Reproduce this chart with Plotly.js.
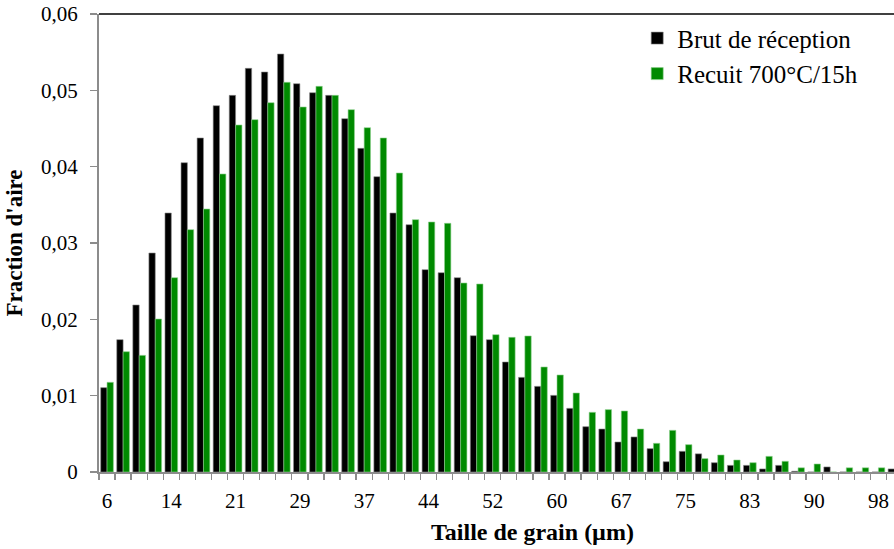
<!DOCTYPE html>
<html>
<head>
<meta charset="utf-8">
<script src="https://cdn.plot.ly/plotly-3.0.1.min.js"></script>
<style>
  html, body { margin: 0; padding: 0; background: #ffffff; overflow: hidden; }
  #chart { width: 894px; height: 549px; }
</style>
</head>
<body>
<div id="chart"></div>
<script>
// Grain size classes (µm), one per bar group
const sizes = ['6','7.9','9.8','11.8','13.7','15.6','17.5','19.4','21.3','23.3',
               '25.2','27.1','29','30.9','32.8','34.8','36.7','38.6','40.5','42.4',
               '44.3','46.3','48.2','50.1','52','53.9','55.8','57.8','59.7','61.6',
               '63.5','65.4','67.3','69.3','71.2','73.1','75','76.9','78.8','80.8',
               '82.7','84.6','86.5','88.4','90.3','92.3','94.2','96.1','98','99.9'];

// Labels shown under every fourth class
const tickLabels = ['6','14','21','29','37','44','52','60','67','75','83','90','98'];

// Series: area fraction
const brutReception = [0.01105,0.01734,0.02188,0.02869,0.03393,0.04052,0.04376,0.04799,0.04934,0.05288,
                       0.05240,0.05476,0.05087,0.04969,0.04934,0.04629,0.04240,0.03869,0.03393,0.03240,
                       0.02651,0.02611,0.02546,0.01786,0.01734,0.01441,0.01240,0.01122,0.01004,0.00834,
                       0.00594,0.00563,0.00393,0.00459,0.00306,0.00135,0.00271,0.00238,0.00122,0.00087,
                       0.00087,0.00040,0.00087,0.00010,0,0.00066,0,0,0,0.00040];

const recuit700 = [0.01175,0.01576,0.01528,0.02004,0.02546,0.03175,0.03445,0.03904,0.04546,0.04616,
                   0.04838,0.05105,0.04782,0.05052,0.04934,0.04747,0.04511,0.04376,0.03917,0.03306,
                   0.03275,0.03258,0.02476,0.02463,0.01799,0.01764,0.01782,0.01376,0.01271,0.01035,
                   0.00782,0.00817,0.00799,0.00563,0.00376,0.00546,0.00358,0.00175,0.00223,0.00157,
                   0.00122,0.00205,0.00140,0.00055,0.00105,0,0.00055,0.00055,0.00055,0];

const seriesNames = ['Brut de réception', 'Recuit 700°C/15h'];

// Y tick values and their (decimal comma) labels
const yTickVals = [0, 0.01, 0.02, 0.03, 0.04, 0.05, 0.06];
const yTickText = ['0', '0,01', '0,02', '0,03', '0,04', '0,05', '0,06'];

// x ticks at every class boundary, labels every fourth class
const xTickText = sizes.map((s, i) => (i % 4 === 0 ? tickLabels[i / 4] : ''));

const FONT = 'Liberation Serif, Times New Roman, serif';

const traces = [
  {
    type: 'bar', name: seriesNames[0], x: sizes, y: brutReception,
    marker: { color: '#000000', line: { color: '#8c8c8c', width: 0.6 } }
  },
  {
    type: 'bar', name: seriesNames[1], x: sizes, y: recuit700,
    marker: { color: '#008a00', line: { color: '#8fd28f', width: 0.6 } }
  }
];

const layout = {
  width: 894, height: 549,
  margin: { l: 99, r: 0, t: 14, b: 77, pad: 0 },
  paper_bgcolor: '#ffffff', plot_bgcolor: '#ffffff',
  font: { family: FONT, size: 21, color: '#000000' },
  barmode: 'group', bargap: 0.21, bargroupgap: 0,
  showlegend: true,
  legend: {
    x: 0.677, y: 0.997, xanchor: 'left', yanchor: 'top',
    bgcolor: 'rgba(0,0,0,0)', borderwidth: 0,
    font: { family: FONT, size: 25, color: '#000000' },
    tracegroupgap: 0
  },
  xaxis: {
    type: 'category',
    range: [-0.5, 48.97],
    tickmode: 'array', tickvals: sizes, ticktext: xTickText,
    tickson: 'boundaries', tickangle: 0,
    ticks: 'outside', ticklen: 6, tickwidth: 1.3, tickcolor: '#8c8c8c',
    ticklabelstandoff: 9,
    tickfont: { family: FONT, size: 21, color: '#000000' },
    showline: true, linecolor: '#8c8c8c', linewidth: 2,
    showgrid: false, zeroline: false, automargin: false
  },
  yaxis: {
    range: [0, 0.06],
    tickmode: 'array', tickvals: yTickVals, ticktext: yTickText,
    ticks: 'outside', ticklen: 7, tickwidth: 1.3, tickcolor: '#8c8c8c',
    ticklabelstandoff: 8,
    tickfont: { family: FONT, size: 21, color: '#000000' },
    showline: true, linecolor: '#8c8c8c', linewidth: 2,
    showgrid: false, zeroline: false, automargin: false,
    title: { text: "<b>Fraction d'aire</b>", font: { family: FONT, size: 23, color: '#000000' }, standoff: 12 }
  },
  shapes: [
    { type: 'line', xref: 'paper', yref: 'paper', x0: 0, x1: 1, y0: 1, y1: 1,
      line: { color: '#404040', width: 2 } }
  ],
  annotations: [
    { text: '<b>Taille de grain (µm)</b>', xref: 'paper', yref: 'paper',
      x: 0.545, y: -0.13, xanchor: 'center', yanchor: 'middle', showarrow: false,
      font: { family: FONT, size: 24, color: '#000000' } }
  ]
};

Plotly.newPlot('chart', traces, layout, { displayModeBar: false, staticPlot: true });
</script>
</body>
</html>
